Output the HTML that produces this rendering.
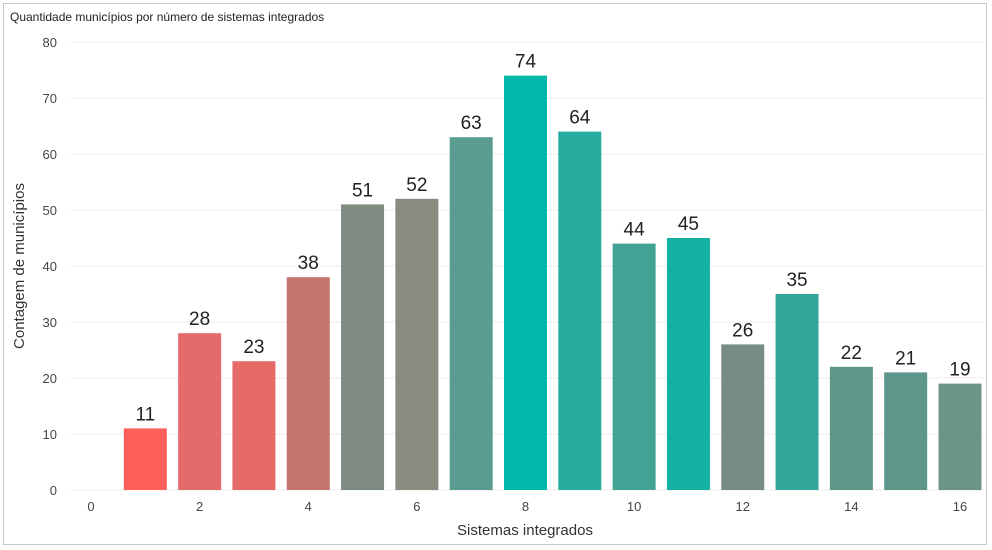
<!DOCTYPE html>
<html><head><meta charset="utf-8"><style>
body{margin:0;background:#fff;font-family:"Liberation Sans",sans-serif}
#frame{position:absolute;left:3px;top:3px;width:984px;height:542px;border:1px solid #c8c8c8;box-sizing:border-box}
</style></head><body>
<div id="frame"></div>
<svg id="c" width="992" height="550" style="position:absolute;left:0;top:0">
<text x="10" y="21" font-size="12" fill="#222">Quantidade municípios por número de sistemas integrados</text>
<text x="525" y="535" font-size="15" fill="#333" text-anchor="middle">Sistemas integrados</text>
<text transform="translate(24,266) rotate(-90)" font-size="15" fill="#333" text-anchor="middle">Contagem de municípios</text>
</svg>
<script>
const categories=[1,2,3,4,5,6,7,8,9,10,11,12,13,14,15,16];
const values=[11,28,23,38,51,52,63,74,64,44,45,26,35,22,21,19];
const colors=["#FF5F5A","#E56B6A","#E66A67","#C4746D","#7D8B80","#898A80","#5A9C8F","#02B8AA","#26AC9E","#42A395","#14B0A3","#778D83","#33A69A","#5F978B","#5F968A","#6C9488"];
const yTicks=[0,10,20,30,40,50,60,70,80];
const xTicks=[0,2,4,6,8,10,12,14,16];
const svg=document.getElementById('c');const NS='http://www.w3.org/2000/svg';
const xs=c=>91+c*(960-91)/16;
const ys=v=>490-v*(448/80);
function mk(t,a){const e=document.createElementNS(NS,t);for(const k in a)e.setAttribute(k,a[k]);svg.appendChild(e);return e;}
yTicks.forEach(v=>{
 const g=mk('line',{x1:70,x2:985,y1:ys(v),y2:ys(v),stroke:'#ececec','stroke-width':1});
 
 
 const t=mk('text',{x:57,y:ys(v)+5,'font-size':13,fill:'#444','text-anchor':'end'});t.textContent=v;
 
 
});
xTicks.forEach(v=>{
 const t=mk('text',{x:xs(v),y:511,'font-size':13,fill:'#444','text-anchor':'middle'});t.textContent=v;
 
 
});
categories.forEach((c,i)=>{
 const r=mk('rect',{x:xs(c)-21.5,y:ys(values[i]),width:43,height:ys(0)-ys(values[i]),fill:colors[i]});
 
 
 const t=mk('text',{x:xs(c),y:ys(values[i])-8,'font-size':19,fill:'#222','text-anchor':'middle'});t.textContent=values[i];
 
 
});
</script>
</body></html>
